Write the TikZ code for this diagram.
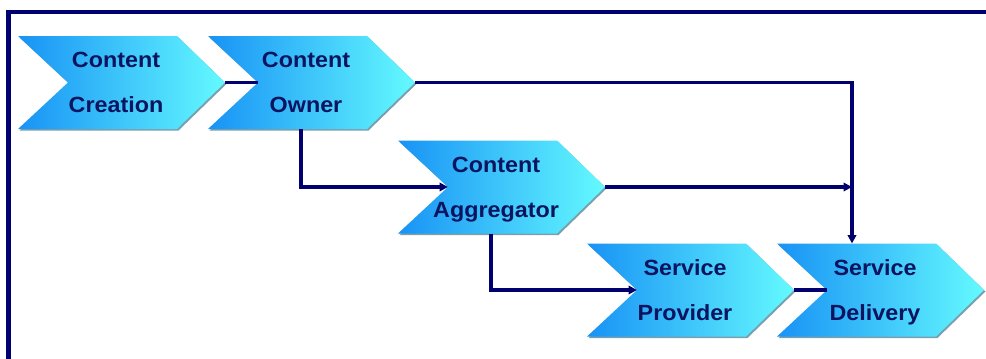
\documentclass[tikz,border=0pt]{standalone}
\usepackage{fontspec}
\setmainfont{Liberation Sans}[FakeStretch=1.06]
\usetikzlibrary{arrows.meta}
\definecolor{navy}{RGB}{0,0,110}
\definecolor{txtc}{RGB}{10,20,95}
\definecolor{chevL}{RGB}{24,146,245}
\definecolor{chevR}{RGB}{100,250,255}
\definecolor{chevS}{RGB}{120,160,175}
\tikzset{
  lbl/.style={font=\fontsize{22}{45}\selectfont\bfseries, text=txtc, align=center,
    inner sep=0pt, execute at end node=\vphantom{g}},
  chevron/.pic={
    \fill[chevS] (1.5,1.5) -- ++(159,0) -- ++(48,46.5) -- ++(-48,46.5) -- ++(-159,0) -- ++(50,-46.5) -- cycle;
    \shade[left color=chevL, right color=chevR] (0,0) -- (159,0) -- (207,46.5) -- (159,93) -- (0,93) -- (50,46.5) -- cycle;
    \coordinate (-in) at (50,46.5);
    \coordinate (-out) at (207,46.5);
    \coordinate (-bot) at (93,93);
    \coordinate (-top) at (75,0);
    \node[lbl] (-t) at (98,49) {\tikzpictext};
  },
  conn/.style={draw=navy, line width=3.3pt},
  arr/.style={conn, -{Triangle[length=8.5pt,width=8.5pt]}},
  frame/.style={draw=navy, line width=4.2pt}
}
\begin{document}
\begin{tikzpicture}[x=1pt,y=-1pt]
\useasboundingbox (0,0) rectangle (986,359);
\draw[frame] (8.5,370) -- (8.5,12) -- (1000,12);
\pic[pic text={Content\\Creation}] (cre) at (18,36) {chevron};
\pic[pic text={Content\\Owner}] (own) at (208,36) {chevron};
\pic[pic text={Content\\Aggregator}] (agg) at (398,140.5) {chevron};
\pic[pic text={Service\\Provider}] (prov) at (587,243.5) {chevron};
\pic[pic text={Service\\Delivery}] (del) at (777,243.5) {chevron};
\draw[conn] (cre-out) -- (own-in);
\draw[conn] (prov-out) -- (del-in);
\draw[arr] (own-out) -| (del-top);
\draw[arr] (own-bot) |- (agg-in);
\draw[arr] (agg-out) -- (agg-out -| del-top);
\draw[arr] (agg-bot) |- (prov-in);
\end{tikzpicture}
\end{document}
